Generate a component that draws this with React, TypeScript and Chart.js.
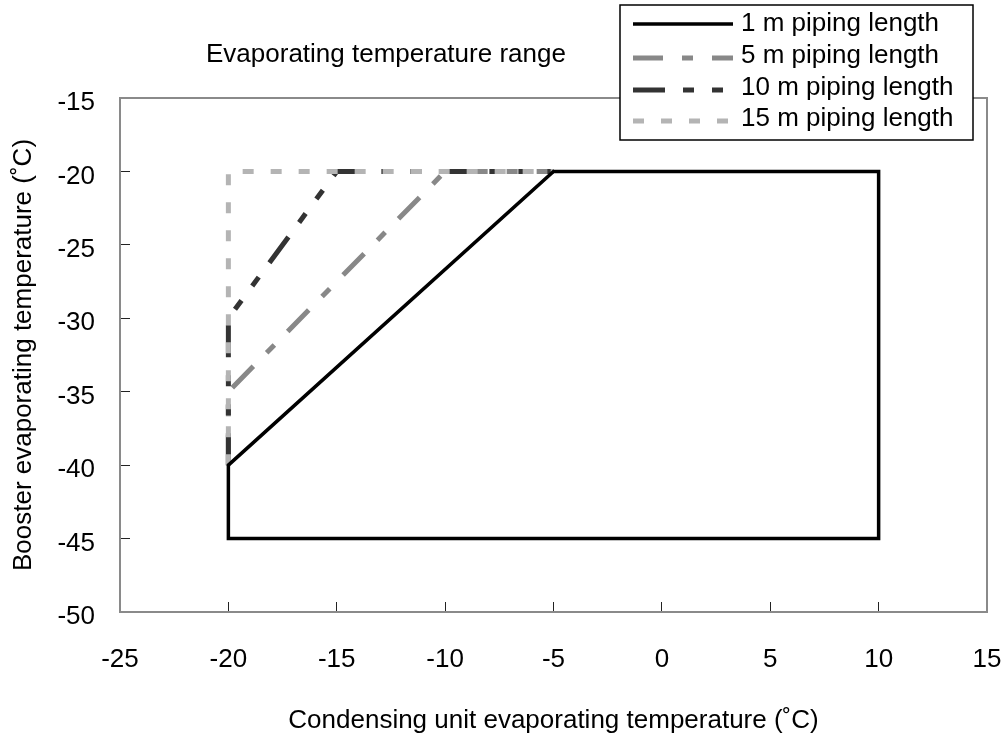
import { useEffect, useRef } from "react";
import { Chart, registerables } from "chart.js";

Chart.register(...registerables);

// ---------- data ----------
const chartTitle = "Evaporating temperature range";
const xAxisTitle = "Condensing unit evaporating temperature (˚C)";
const yAxisTitle = "Booster evaporating temperature (˚C)";

const xTickValues = [-25, -20, -15, -10, -5, 0, 5, 10, 15];
const yTickValues = [-50, -45, -40, -35, -30, -25, -20, -15];

const seriesLabels = [
  "1 m piping length",
  "5 m piping length",
  "10 m piping length",
  "15 m piping length",
];

const pipe1mX = [-20, 10, 10, -5, -20, -20];
const pipe1mY = [-45, -45, -20, -20, -40, -45];

const pipe5mX = [-20, -20, -10, -5];
const pipe5mY = [-40, -35, -20, -20];

const pipe10mX = [-20, -20, -15, -5];
const pipe10mY = [-40, -30, -20, -20];

const pipe15mX = [-20, -20, -5];
const pipe15mY = [-40, -20, -20];

// ---------- helpers ----------
const FONT = "'Liberation Sans', Arial, Helvetica, sans-serif";
const toPoints = (xs: number[], ys: number[]) => xs.map((x, i) => ({ x, y: ys[i] }));

const framePlugin = {
  id: "frame",
  beforeDatasetsDraw(chart: any) {
    const { ctx, chartArea: a } = chart;
    ctx.save();
    ctx.strokeStyle = "#8a8a8a";
    ctx.lineWidth = 2;
    ctx.strokeRect(a.left, a.top, a.right - a.left, a.bottom - a.top);
    ctx.restore();
  },
};

const decorPlugin = {
  id: "decor",
  afterDraw(chart: any) {
    const { ctx, chartArea: a } = chart;
    ctx.save();
    ctx.fillStyle = "#000";
    ctx.font = `26px ${FONT}`;
    ctx.textAlign = "left";
    ctx.textBaseline = "alphabetic";
    ctx.fillText(chartTitle, 206, 62);

    // x axis title
    ctx.textAlign = "center";
    ctx.fillText(xAxisTitle, (a.left + a.right) / 2, 728);

    // legend box
    const bx = 620, by = 5, bw = 353, bh = 135;
    ctx.fillStyle = "#fff";
    ctx.fillRect(bx, by, bw, bh);
    ctx.strokeStyle = "#000";
    ctx.lineWidth = 1.5;
    ctx.strokeRect(bx, by, bw, bh);

    const rowY = [24, 56, 88, 119];
    chart.data.datasets.forEach((ds: any, i: number) => {
      const y = rowY[i];
      const ly = i === 0 ? y : y + 2;
      ctx.save();
      ctx.strokeStyle = ds.borderColor;
      ctx.lineWidth = ds.borderWidth;
      ctx.setLineDash(ds.borderDash || []);
      ctx.lineCap = "butt";
      ctx.beginPath();
      ctx.moveTo(633, ly);
      ctx.lineTo(733, ly);
      ctx.stroke();
      ctx.restore();
      ctx.fillStyle = "#000";
      ctx.font = `26px ${FONT}`;
      ctx.textAlign = "left";
      ctx.textBaseline = "middle";
      ctx.fillText(ds.label, 741, y);
    });
    ctx.restore();
  },
};

export default function App() {
  const canvasRef = useRef<HTMLCanvasElement | null>(null);

  useEffect(() => {
    const canvas = canvasRef.current;
    if (!canvas) return;
    const chart = new Chart(canvas, {
      type: "scatter",
      data: {
        datasets: [
          {
            label: seriesLabels[0],
            data: toPoints(pipe1mX, pipe1mY),
            borderColor: "#000000",
            backgroundColor: "#000000",
            borderWidth: 3.5,
            borderDash: [],
            borderCapStyle: "square",
            order: 0,
          },
          {
            label: seriesLabels[1],
            data: toPoints(pipe5mX, pipe5mY),
            borderColor: "#888888",
            backgroundColor: "#888888",
            borderWidth: 5,
            borderDash: [30, 19, 11, 19],
            order: 3,
          },
          {
            label: seriesLabels[2],
            data: toPoints(pipe10mX, pipe10mY),
            borderColor: "#333333",
            backgroundColor: "#333333",
            borderWidth: 5,
            borderDash: [32, 18, 11, 18, 11, 18],
            order: 2,
          },
          {
            label: seriesLabels[3],
            data: toPoints(pipe15mX, pipe15mY),
            borderColor: "#b4b4b4",
            backgroundColor: "#b4b4b4",
            borderWidth: 5,
            borderDash: [11, 17],
            order: 1,
          },
        ].map((d) => ({
          ...d,
          showLine: true,
          pointRadius: 0,
          pointHoverRadius: 0,
          fill: false,
          tension: 0,
          borderJoinStyle: "miter",
        })) as any,
      },
      options: {
        animation: false,
        responsive: false,
        maintainAspectRatio: false,
        events: [],
        layout: { padding: { top: 98, right: 20, left: 0, bottom: 0 } },
        plugins: {
          legend: { display: false },
          title: { display: false },
          tooltip: { enabled: false },
        },
        scales: {
          x: {
            type: "linear",
            min: -25,
            max: 15,
            afterBuildTicks: (s: any) => {
              s.ticks = xTickValues.map((v) => ({ value: v }));
            },
            afterFit: (s: any) => {
              s.height = 126;
              s.paddingLeft = 0;
              s.paddingRight = 0;
            },
            border: { display: false },
            grid: {
              display: true,
              drawOnChartArea: false,
              drawTicks: true,
              tickLength: -10,
              color: "#222",
              lineWidth: 1,
            },
            ticks: {
              padding: 42,
              color: "#000",
              font: { family: FONT, size: 26 },
              maxRotation: 0,
              autoSkip: false,
              callback: (v: any) => String(v),
            },
            title: { display: false },
          },
          y: {
            type: "linear",
            min: -50,
            max: -15,
            afterBuildTicks: (s: any) => {
              s.ticks = yTickValues.map((v) => ({ value: v }));
            },
            afterFit: (s: any) => {
              s.width = 120;
              s.paddingTop = 0;
              s.paddingBottom = 0;
            },
            border: { display: false },
            grid: {
              display: true,
              drawOnChartArea: false,
              drawTicks: true,
              tickLength: -10,
              color: "#222",
              lineWidth: 1,
            },
            ticks: {
              padding: 35,
              labelOffset: 5,
              color: "#000",
              font: { family: FONT, size: 26 },
              autoSkip: false,
              callback: (v: any) => String(v),
            },
            title: {
              display: true,
              text: yAxisTitle,
              color: "#000",
              font: { family: FONT, size: 26 },
              padding: { top: 8, bottom: 0 },
            },
          },
        },
      },
      plugins: [framePlugin, decorPlugin],
    });
    return () => chart.destroy();
  }, []);

  return (
    <div style={{ position: "absolute", left: 0, top: 0, width: 1007, height: 738, background: "#fff" }}>
      <canvas ref={canvasRef} width={1007} height={738} style={{ display: "block", width: 1007, height: 738 }} />
    </div>
  );
}
